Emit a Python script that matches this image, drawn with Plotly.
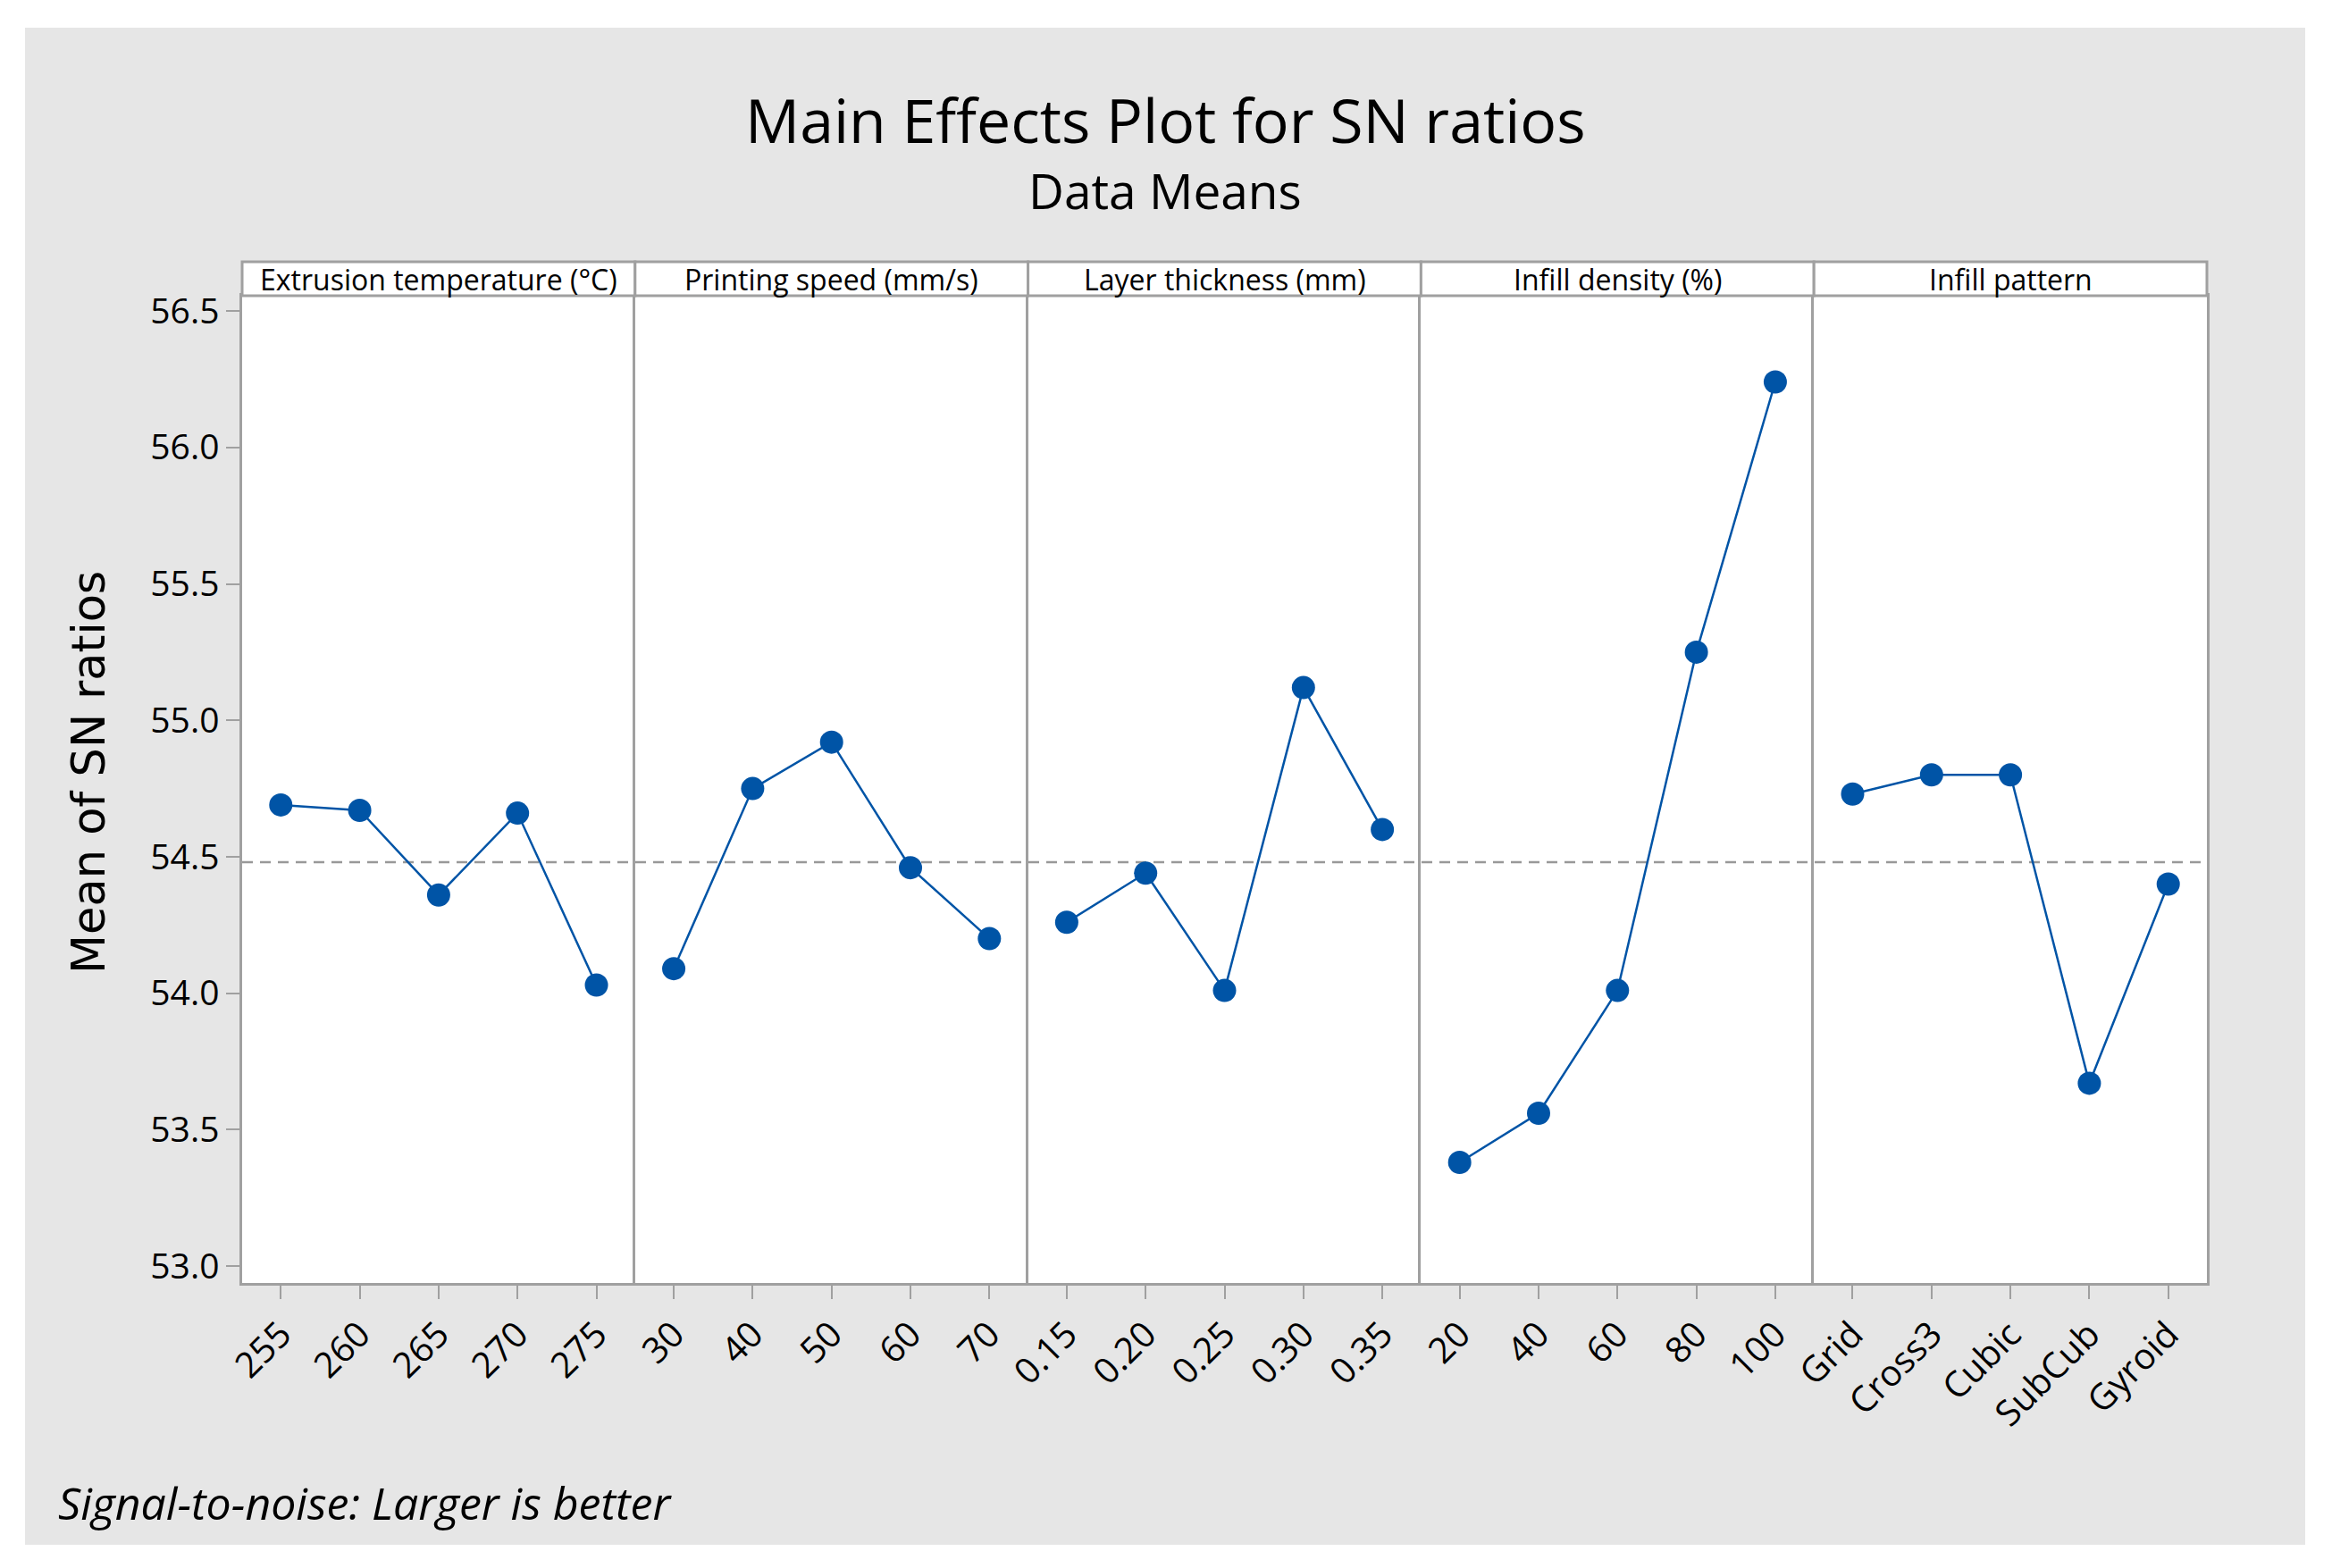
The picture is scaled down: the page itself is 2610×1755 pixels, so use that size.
import plotly.graph_objects as go
from plotly.subplots import make_subplots

# factor levels (categories) and mean SN ratio for each level
temp_levels = ["255", "260", "265", "270", "275"]
temp_sn = [54.69, 54.67, 54.36, 54.66, 54.03]

speed_levels = ["30", "40", "50", "60", "70"]
speed_sn = [54.09, 54.75, 54.92, 54.46, 54.20]

layer_levels = ["0.15", "0.20", "0.25", "0.30", "0.35"]
layer_sn = [54.26, 54.44, 54.01, 55.12, 54.60]

density_levels = ["20", "40", "60", "80", "100"]
density_sn = [53.38, 53.56, 54.01, 55.25, 56.24]

pattern_levels = ["Grid", "Cross3", "Cubic", "SubCub", "Gyroid"]
pattern_sn = [54.73, 54.80, 54.80, 53.67, 54.40]

panel_names = ["Extrusion temperature (°C)", "Printing speed (mm/s)",
               "Layer thickness (mm)", "Infill density (%)", "Infill pattern"]
overall_mean = 54.48

W, H = 2610, 1755
OFF = 8  # the page body adds an 8px margin, so pull the margins back by that
# plot area in (reference) pixels
L, R, T, B = 271, 2470, 331, 1436
pw, ph = R - L, B - T


def py(p):  # reference pixel row -> paper y
    return (B - p) / ph


def px(p):  # reference pixel col -> paper x
    return (p - L) / pw


blue = "#0054a6"
frame = "#a0a0a0"
bg = "#e6e6e6"
ink = "#000000"
font = "Open Sans"

fig = make_subplots(rows=1, cols=5, shared_yaxes=True, horizontal_spacing=0)

panels = [(temp_levels, temp_sn), (speed_levels, speed_sn), (layer_levels, layer_sn),
          (density_levels, density_sn), (pattern_levels, pattern_sn)]

for i, (lv, sn) in enumerate(panels):
    fig.add_trace(go.Scatter(x=lv, y=sn, mode="lines+markers",
                             line=dict(color=blue, width=2.5),
                             marker=dict(color=blue, size=26),
                             showlegend=False), row=1, col=i + 1)
    fig.update_xaxes(type="category", range=[-0.49, 4.49], showline=True, mirror=True,
                     linecolor=frame, linewidth=3, showgrid=False, zeroline=False,
                     ticks="outside", ticklen=15, tickwidth=2, tickcolor=frame,
                     tickangle=-45, tickfont=dict(family=font, size=40, color=ink),
                     row=1, col=i + 1)
    fig.update_yaxes(showline=True, mirror=(i == 4), linecolor=frame, linewidth=2.5,
                     row=1, col=i + 1)
    # header box above each panel
    ax = f"x{i + 1 if i else ''} domain"
    fig.add_shape(type="rect", xref=ax, yref="paper",
                  x0=0, x1=1, y0=1, y1=py(293), line=dict(color=frame, width=3),
                  fillcolor="white", layer="above")
    fig.add_annotation(text=panel_names[i], xref=ax, yref="paper",
                       x=0.5, y=py(312), showarrow=False, yanchor="middle",
                       font=dict(family=font, size=32, color=ink))

fig.update_yaxes(range=[52.938, 56.556], showgrid=False, zeroline=False)
fig.update_yaxes(tickvals=[53.0, 53.5, 54.0, 54.5, 55.0, 55.5, 56.0, 56.5],
                 ticktext=["53.0", "53.5", "54.0", "54.5", "55.0", "55.5", "56.0", "56.5"],
                 ticks="outside", ticklen=15, tickwidth=2, tickcolor=frame,
                 tickfont=dict(family=font, size=39, color=ink),
                 row=1, col=1)

# overall mean reference line
fig.add_shape(type="line", xref="paper", yref="y", x0=0, x1=1, y0=overall_mean, y1=overall_mean,
              line=dict(color="#999999", width=2.5, dash="12px,8px"), layer="below")

# white border strips around the grey panel
for x0, x1, y0, y1 in [(-20, 28, -20, H + 20), (2580, W + 20, -20, H + 20),
                       (-20, W + 20, -20, 31), (-20, W + 20, 1729, H + 20)]:
    fig.add_shape(type="rect", xref="paper", yref="paper", x0=px(x0), x1=px(x1),
                  y0=py(y1), y1=py(y0), fillcolor="white", line=dict(width=0),
                  layer="above")

fig.add_annotation(text="Mean of SN ratios", xref="paper", yref="paper", textangle=-90,
                   x=px(100), y=py(865), showarrow=False,
                   xanchor="center", yanchor="middle",
                   font=dict(family="DejaVu Sans", size=51, color=ink))
fig.add_annotation(text="Main Effects Plot for SN ratios", xref="paper", yref="paper",
                   x=px(1304), y=py(134), showarrow=False, yanchor="middle",
                   font=dict(family=font, size=68, color=ink))
fig.add_annotation(text="Data Means", xref="paper", yref="paper",
                   x=px(1304), y=py(213), showarrow=False, yanchor="middle",
                   font=dict(family=font, size=55, color=ink))
fig.add_annotation(text="<i>Signal-to-noise: Larger is better</i>", xref="paper", yref="paper",
                   x=px(63), y=py(1682), showarrow=False, xanchor="left",
                   yanchor="middle", font=dict(family=font, size=50, color=ink))

fig.update_layout(width=W, height=H, paper_bgcolor=bg, plot_bgcolor="white",
                  margin=dict(l=L - OFF, r=W - R + OFF, t=T - OFF, b=H - B + OFF))

fig.write_html("out.html")
